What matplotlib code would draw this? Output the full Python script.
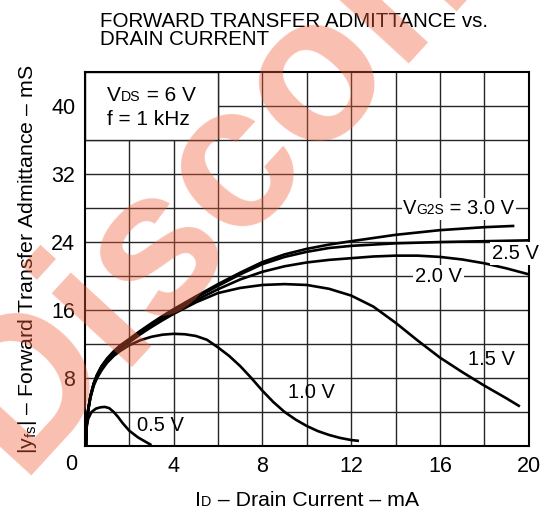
import matplotlib
matplotlib.use("Agg")
import matplotlib.pyplot as plt
from matplotlib.patches import Rectangle
from matplotlib.offsetbox import TextArea, HPacker, AnnotationBbox

plt.rcParams['font.family'] = ['Liberation Sans', 'DejaVu Sans']
plt.rcParams['mathtext.fontset'] = 'custom'
plt.rcParams['mathtext.rm'] = 'Liberation Sans'

# drain current (mA) / |yfs| (mS), one pair per gate-2 voltage
id_3v0 = [0.05, 0.08, 0.15, 0.25, 0.4, 0.55, 0.75, 1.0, 1.3, 1.6, 2.0, 2.5, 3.0, 3.5, 4, 5, 6, 7, 8, 9,
          10, 11, 12, 14, 16, 18, 19.35]
yfs_3v0 = [0, 2.5, 4.3, 5.9, 7.4, 8.4, 9.4, 10.3, 11.15, 11.85, 12.6, 13.55, 14.45, 15.3, 16.1, 17.6, 19.05, 20.4,
           21.65, 22.55, 23.2, 23.7, 24.1, 24.85, 25.4, 25.75, 25.9]

id_2v5 = [0.05, 0.08, 0.15, 0.25, 0.4, 0.55, 0.75, 1.0, 1.3, 1.6, 2.0, 2.5, 3.0, 3.5, 4, 5, 6, 7, 8, 9,
          10, 11, 12, 14, 16, 18, 20]
yfs_2v5 = [0, 2.5, 4.3, 5.85, 7.35, 8.35, 9.35, 10.2, 11.05, 11.75, 12.5, 13.45, 14.35, 15.2, 16.0, 17.45, 18.85,
           20.2, 21.4, 22.25, 22.85, 23.3, 23.55, 23.85, 24.0, 24.1, 24.2]

id_2v0 = [0.05, 0.08, 0.15, 0.25, 0.4, 0.55, 0.75, 1.0, 1.3, 1.6, 2.0, 2.5, 3.0, 3.5, 4, 5, 6, 7, 8, 9,
          10, 11, 12, 13, 14, 15, 16, 17, 18, 19, 20]
yfs_2v0 = [0, 2.5, 4.25, 5.8, 7.3, 8.3, 9.3, 10.1, 10.95, 11.6, 12.35, 13.3, 14.15, 15.0, 15.75, 17.15, 18.45,
           19.6, 20.5, 21.15, 21.6, 21.9, 22.1, 22.3, 22.4, 22.4, 22.25, 21.95, 21.5, 20.9, 20.2]

id_1v5 = [0.05, 0.08, 0.15, 0.25, 0.4, 0.55, 0.75, 1.0, 1.3, 1.6, 2.0, 2.5, 3.0, 3.5, 4, 5, 6, 7, 8, 9,
          10, 11, 12, 13, 14, 15, 16, 17, 18, 19, 19.6]
yfs_1v5 = [0, 2.5, 4.2, 5.75, 7.25, 8.2, 9.2, 10.0, 10.85, 11.5, 12.2, 13.15, 14.0, 14.8, 15.55, 16.9, 18.0,
           18.6, 18.95, 19.05, 18.95, 18.5, 17.7, 16.4, 14.5, 12.4, 10.4, 8.7, 7.1, 5.6, 4.65]

id_1v0 = [0.05, 0.08, 0.15, 0.25, 0.4, 0.55, 0.75, 1.0, 1.3, 1.6, 2.0, 2.5, 3.0, 3.5, 4, 4.5, 5, 5.5, 6, 6.5,
          7, 7.5, 8, 8.5, 9, 9.5, 10, 10.5, 11, 11.5, 12, 12.35]
yfs_1v0 = [0, 2.4, 4.2, 5.7, 7.1, 8.0, 8.9, 9.8, 10.6, 11.2, 11.85, 12.45, 12.85, 13.1, 13.2, 13.15, 12.95, 12.5,
           11.6, 10.6, 9.4, 8.0, 6.5, 5.15, 4.0, 3.1, 2.35, 1.75, 1.3, 0.95, 0.7, 0.6]

id_0v5 = [0.03, 0.08, 0.15, 0.3, 0.5, 0.7, 0.9, 1.1, 1.3, 1.5, 1.7, 2.0, 2.4, 2.7, 3.0]
yfs_0v5 = [0, 2.2, 3.2, 4.0, 4.4, 4.55, 4.6, 4.45, 4.0, 3.4, 2.7, 1.8, 1.0, 0.55, 0.1]

x_ticks = [4, 8, 12, 16, 20]
y_ticks = [8, 16, 24, 32, 40]


def small_caps(ax, parts, xy, align, fs, white=False, z=5, coords='data'):
    # big letter + smaller letters sitting on the same baseline, like "VDS"
    kids = [TextArea(t, textprops=dict(fontsize=fs * k)) for t, k in parts]
    box = HPacker(children=kids, align='baseline', pad=0, sep=0)
    ab = AnnotationBbox(box, xy, xycoords=coords, box_alignment=align, frameon=white, pad=0.12,
                        bboxprops=dict(facecolor='white', edgecolor='none'), annotation_clip=False)
    ab.set_zorder(z)
    ax.add_artist(ab)


fig = plt.figure(figsize=(5.44, 5.15), dpi=100)
ax = fig.add_axes([0.156, 0.134, 0.816, 0.726])
ax.set_xlim(0, 20)
ax.set_ylim(0, 44)

grid_col = '#262626'
for gx in range(2, 20, 2):
    ax.axvline(gx, color=grid_col, lw=1.0, zorder=1)
for gy in range(4, 44, 4):
    ax.axhline(gy, color=grid_col, lw=1.0, zorder=1)
# blank corner for the test conditions
ax.add_patch(Rectangle((0, 36), 6, 8, facecolor='white', edgecolor=grid_col, lw=1.0, zorder=2))

for xs, ys in [(id_3v0, yfs_3v0), (id_2v5, yfs_2v5), (id_2v0, yfs_2v0),
               (id_1v5, yfs_1v5), (id_1v0, yfs_1v0), (id_0v5, yfs_0v5)]:
    ax.plot(xs, ys, color='black', lw=1.9, solid_capstyle='butt', zorder=3)

for s in ax.spines.values():
    s.set_linewidth(1.5)
    s.set_zorder(4)

ax.set_xticks(x_ticks)
ax.set_yticks(y_ticks)
ax.tick_params(length=0, labelsize=15.5, pad=7)
ax.text(-0.6, -2.2, '0', fontsize=15.5, ha='center', va='center')

ax.set_ylabel(r'$\mathregular{|y_{fs}|}$ – Forward Transfer Admittance – mS', fontsize=15.3, labelpad=9)
small_caps(ax, [('I', 1), ('D', 0.68), (' – Drain Current – mA', 1)], (307 / 544, 1 - 500 / 515),
           (0.5, 0.5), 15.3, coords='figure fraction')

fig.text(100 / 544, 1 - 12 / 515, 'FORWARD TRANSFER ADMITTANCE vs.\nDRAIN CURRENT',
         fontsize=14.8, ha='left', va='top', linespacing=0.92)

small_caps(ax, [('V', 1), ('DS', 0.68), (' = 6 V', 1)], (1.0, 41.2), (0, 0.5), 15)
ax.text(1.0, 38.4, 'f = 1 kHz', fontsize=15, va='center', zorder=5)

lbl_box = dict(facecolor='white', edgecolor='none', pad=1.5)
small_caps(ax, [('V', 1), ('G2S', 0.68), (' = 3.0 V', 1)], (16.85, 27.9), (0.5, 0.5), 14.5, white=True)
ax.text(19.4, 22.7, '2.5 V', fontsize=14.5, ha='center', va='center', bbox=lbl_box,
        zorder=6, clip_on=False)
ax.text(15.95, 19.9, '2.0 V', fontsize=14.5, ha='center', va='center', bbox=lbl_box, zorder=5)
ax.text(18.3, 10.2, '1.5 V', fontsize=14.5, ha='center', va='center', zorder=5)
ax.text(10.2, 6.3, '1.0 V', fontsize=14.5, ha='center', va='center', zorder=5)
ax.text(3.4, 2.4, '0.5 V', fontsize=14.5, ha='center', va='center', zorder=5)

# watermark
fig.text(18 / 544, 1 - 476 / 515, 'Discontinued', fontsize=148, fontweight='bold',
         color='#f0603a', alpha=0.4, rotation=47.5, rotation_mode='anchor',
         ha='left', va='baseline', zorder=10)

fig.savefig('out.png', dpi=100)
